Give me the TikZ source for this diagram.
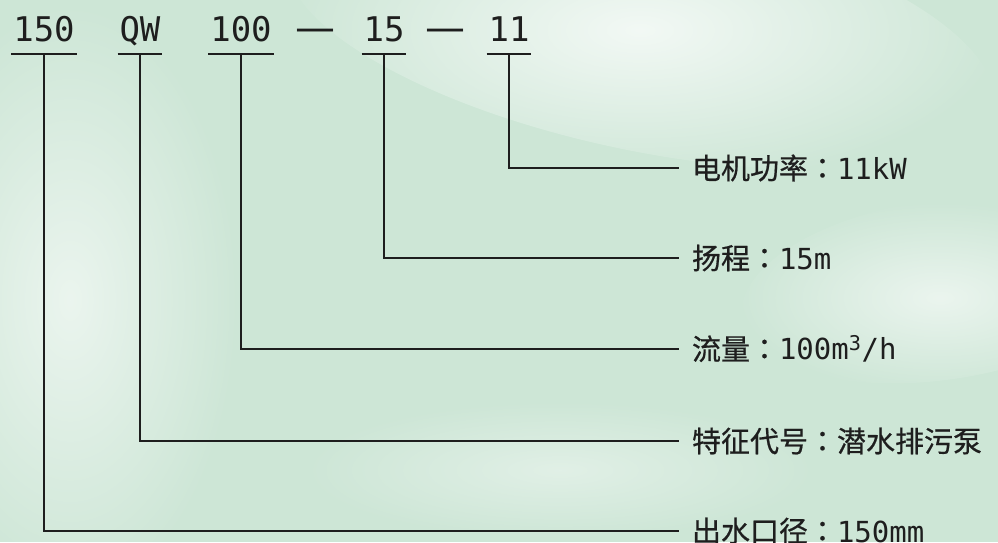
\documentclass[tikz,border=0pt]{standalone}
\usepackage{fontspec}
\usepackage{tikz}
\usetikzlibrary{fadings}
\setmainfont{DejaVu Sans Mono}
\newfontfamily\cjk[FakeBold=0.6]{Noto Sans CJK SC}
\newfontfamily\cjkcolon[FakeBold=0.6]{Noto Sans CJK TC}
\newfontfamily\dashfont{DejaVu Sans}
\newcommand{\speccolon}{{\cjkcolon ：}}
\definecolor{bgmint}{RGB}{205,230,214}
\definecolor{ink}{RGB}{30,30,30}
\tikzfading[name=softspot, inner color=transparent!0, outer color=transparent!100]

\begin{document}
\begin{tikzpicture}
            [x=1pt, y=-1pt, line width=2pt, color=ink,
             code/.style={anchor=base, inner xsep=1pt, inner ysep=12pt, text depth=0pt, font=\fontsize{34}{34}\selectfont},
             sep/.style={anchor=base, inner sep=0pt, font=\dashfont\fontsize{40}{40}\selectfont},
             spec/.style={anchor=west, inner xsep=12pt, inner ysep=0pt, font=\fontsize{29}{29}\selectfont},
             glow/.style={fill=white, path fading=softspot}]
            \useasboundingbox (0, 0) rectangle (998, 542);
            \fill[bgmint] (0, 0) rectangle (998, 542);
            \fill[glow, opacity=.75, rotate around={-12:(640, 30)}] (640, 30) ellipse [x radius=360, y radius=120];
            \fill[glow, opacity=.6] (70, 300) ellipse [x radius=170, y radius=300];
            \fill[glow, opacity=.6, rotate around={8:(940, 290)}] (940, 290) ellipse [x radius=200, y radius=90];
            \fill[glow, opacity=.4] (560, 470) ellipse [x radius=260, y radius=70];

            \node[code] (c150) at (44, 41) {150};
            \node[code] (cqw) at (140, 41) {QW};
            \node[code] (c100) at (241, 41) {100};
            \node[sep] (d1) at (315, 41) {—};
            \node[code] (c15) at (384, 41) {15};
            \node[sep] (d2) at (445, 41) {—};
            \node[code] (c11) at (509, 41) {11};

            \node[spec] (l11) at (679, 168) {{\cjk 电机功率}\speccolon 11kW};
            \node[spec] (l15) at (679, 258) {{\cjk 扬程}\speccolon 15m};
            \node[spec] (l100) at (679, 349) {{\cjk 流量}\speccolon 100m\textsuperscript{3}/h};
            \node[spec] (lqw) at (679, 441) {{\cjk 特征代号}\speccolon{\cjk 潜水排污泵}};
            \node[spec] (l150) at (679, 531) {{\cjk 出水口径}\speccolon 150mm};

            \draw (c150.south west) -- (c150.south east);
            \draw (cqw.south west) -- (cqw.south east);
            \draw (c100.south west) -- (c100.south east);
            \draw (c15.south west) -- (c15.south east);
            \draw (c11.south west) -- (c11.south east);

            \draw (c11.south) |- (l11.west);
            \draw (c15.south) |- (l15.west);
            \draw (c100.south) |- (l100.west);
            \draw (cqw.south) |- (lqw.west);
            \draw (c150.south) |- (l150.west);
        \end{tikzpicture}
\end{document}
